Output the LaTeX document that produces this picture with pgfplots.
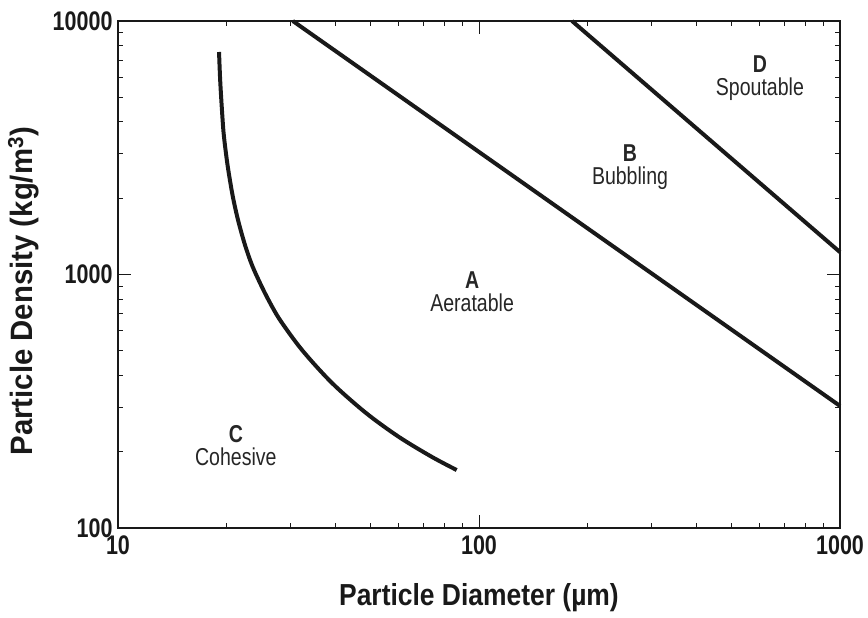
\documentclass[border=0pt]{standalone}
\usepackage{fontspec}
\setmainfont[FakeStretch=0.8]{Liberation Sans}
\newfontfamily\labelfont[FakeStretch=0.87]{Liberation Sans}
\newfontfamily\ylabelfont[FakeStretch=0.95]{Liberation Sans}
\usepackage{pgfplots}
\pgfplotsset{compat=1.18}
\begin{document}
\begin{tikzpicture}
\begin{loglogaxis}[
  scale only axis,
  width=722bp, height=507bp,
  xmin=10, xmax=1000, ymin=100, ymax=10000,
  xtick={10,100,1000}, ytick={100,1000,10000},
  xticklabels={10,100,1000}, yticklabels={100,1000,10000},
  log ticks with fixed point,
  /pgf/number format/assume math mode=true,
  tick align=inside,
  major tick length=13bp, minor tick length=5bp,
  every tick/.style={black!90, line width=1pt},
  axis line style={line width=1.4pt, black!90},
  ticklabel style={font=\bfseries\fontsize{27}{27}\selectfont, text=black!90},
  xticklabel style={yshift=-4bp},
  yticklabel style={xshift=-2bp},
  xlabel={Particle Diameter (\textmu m)},
  ylabel={Particle Density (kg/m\textsuperscript{3})},
  xlabel style={font=\labelfont\bfseries\fontsize{30.5}{31}\selectfont, text=black!90,
    at={(axis description cs:0.5,-0.138)}, anchor=center},
  ylabel style={font=\ylabelfont\bfseries\fontsize{31}{31}\selectfont, text=black!90,
    at={(axis description cs:-0.131,0.467)}, anchor=center},
  clip=false,
]
\addplot[line width=4pt, color=black!90] coordinates {(30.5,10000) (1000,303)};
\addplot[line width=4pt, color=black!90] coordinates {(181,10000) (1000,1225)};
\addplot[line width=4pt, color=black!90, smooth] coordinates {
 (19.05,7546) (19.19,5853) (19.41,4456) (19.64,3550) (20.11,2704) (20.76,2059)
 (21.50,1641) (22.48,1307) (23.50,1090) (24.74,925.7) (26.12,793) (28.11,661.4)
 (32.34,503.7) (39.16,373.3) (48.64,284.2) (60.02,228.6) (74.11,190.6) (86.75,169.3)};
\tikzset{reg/.style={align=center, font=\fontsize{24.5}{23}\selectfont, text=black!85}}
\node[reg] at (axis cs:95.7,853) {\textbf{A}\\Aeratable};
\node[reg] at (axis cs:262,2655) {\textbf{B}\\Bubbling};
\node[reg] at (axis cs:21.2,212) {\textbf{C}\\Cohesive};
\node[reg] at (axis cs:600,5957) {\textbf{D}\\Spoutable};
\end{loglogaxis}
\useasboundingbox (-118bp,-90bp) rectangle (750bp,528bp);
\end{tikzpicture}
\end{document}
